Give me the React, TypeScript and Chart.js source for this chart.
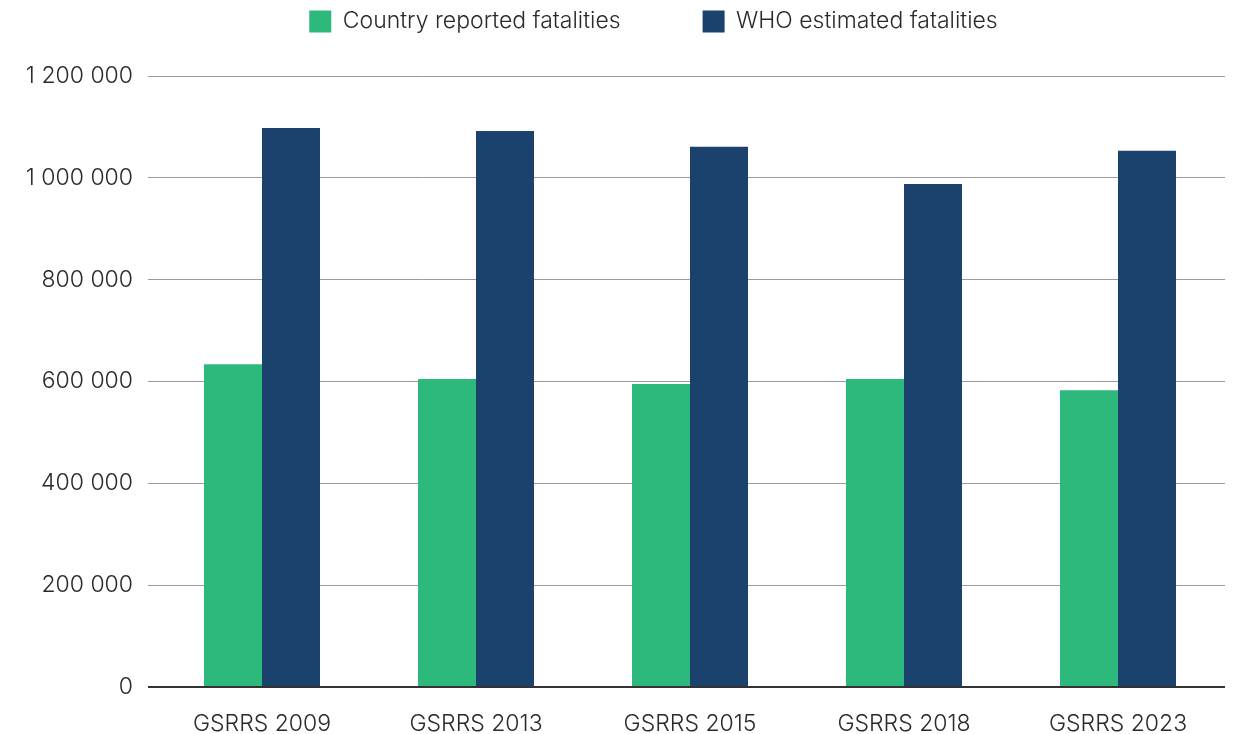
import React, { useEffect, useRef } from "react";
import { Chart, registerables } from "chart.js";

Chart.register(...registerables);

const categories = ["GSRRS 2009", "GSRRS 2013", "GSRRS 2015", "GSRRS 2018", "GSRRS 2023"];
const countryReported = [634000, 605000, 595000, 605000, 583000];
const whoEstimated = [1098000, 1092000, 1061000, 988000, 1053000];
const seriesLabels = ["Country reported fatalities", "WHO estimated fatalities"];
const yTicks = [0, 200000, 400000, 600000, 800000, 1000000, 1200000];

const fmt = (v: number) => String(v).replace(/\B(?=(\d{3})+(?!\d))/g, " ");

const FONT = "Inter";

const legendFit = {
  id: "legendFit",
  beforeInit(chart: any) {
    const lg = chart.legend;
    if (!lg) return;
    const origFit = lg.fit;
    lg.fit = function () {
      origFit.call(this);
      this.height = 148;
    };
    const origDraw = lg.draw;
    lg.draw = function () {
      const l = this.left;
      this.left = l + 82;
      origDraw.call(this);
      this.left = l;
    };
  },
};

export default function App() {
  const ref = useRef<HTMLCanvasElement>(null);
  useEffect(() => {
    if (!ref.current) return;
    const chart = new Chart(ref.current, {
      type: "bar",
      data: {
        labels: categories,
        datasets: [
          { label: seriesLabels[0], data: countryReported, backgroundColor: "#2db97b", borderWidth: 0 },
          { label: seriesLabels[1], data: whoEstimated, backgroundColor: "#1b426d", borderWidth: 0 },
        ],
      },
      plugins: [legendFit],
      options: {
        animation: false,
        responsive: false,
        maintainAspectRatio: false,
        layout: { padding: { left: 0, right: 13, top: -72, bottom: 0 } },
        datasets: { bar: { barPercentage: 1, categoryPercentage: 0.542 } },
        plugins: {
          legend: {
            position: "top",
            labels: {
              font: { family: FONT, size: 23, weight: "300" },
              color: "#2a2a2a",
              boxWidth: 22,
              boxHeight: 22,
              padding: 82,
            },
          },
          tooltip: { enabled: false },
        },
        scales: {
          x: {
            grid: { display: false, drawTicks: false },
            border: { display: false },
            ticks: { font: { family: FONT, size: 23, weight: "300" }, color: "#2a2a2a", padding: 23 },
            afterFit: (s: any) => {
              s.height = 47;
            },
          },
          y: {
            min: 0,
            max: 1200000,
            afterBuildTicks: (s: any) => {
              s.ticks = yTicks.map((v) => ({ value: v }));
            },
            afterFit: (s: any) => {
              s.width = 155;
            },
            ticks: {
              font: { family: FONT, size: 23, weight: "300" },
              color: "#2a2a2a",
              padding: 15,
              callback: (v: any) => fmt(Number(v)),
            },
            grid: {
              drawTicks: true,
              tickLength: 7,
              color: (ctx: any) => (ctx.tick && ctx.tick.value === 0 ? "#333" : "#9a9a9a"),
              lineWidth: (ctx: any) => (ctx.tick && ctx.tick.value === 0 ? 2 : 1),
            },
            border: { display: false },
          },
        },
      },
    });
    return () => chart.destroy();
  }, []);
  return (
    <div style={{ position: "absolute", left: 0, top: 0, width: 1238, height: 734, background: "#fff" }}>
      <canvas ref={ref} width={1238} height={734} />
    </div>
  );
}
